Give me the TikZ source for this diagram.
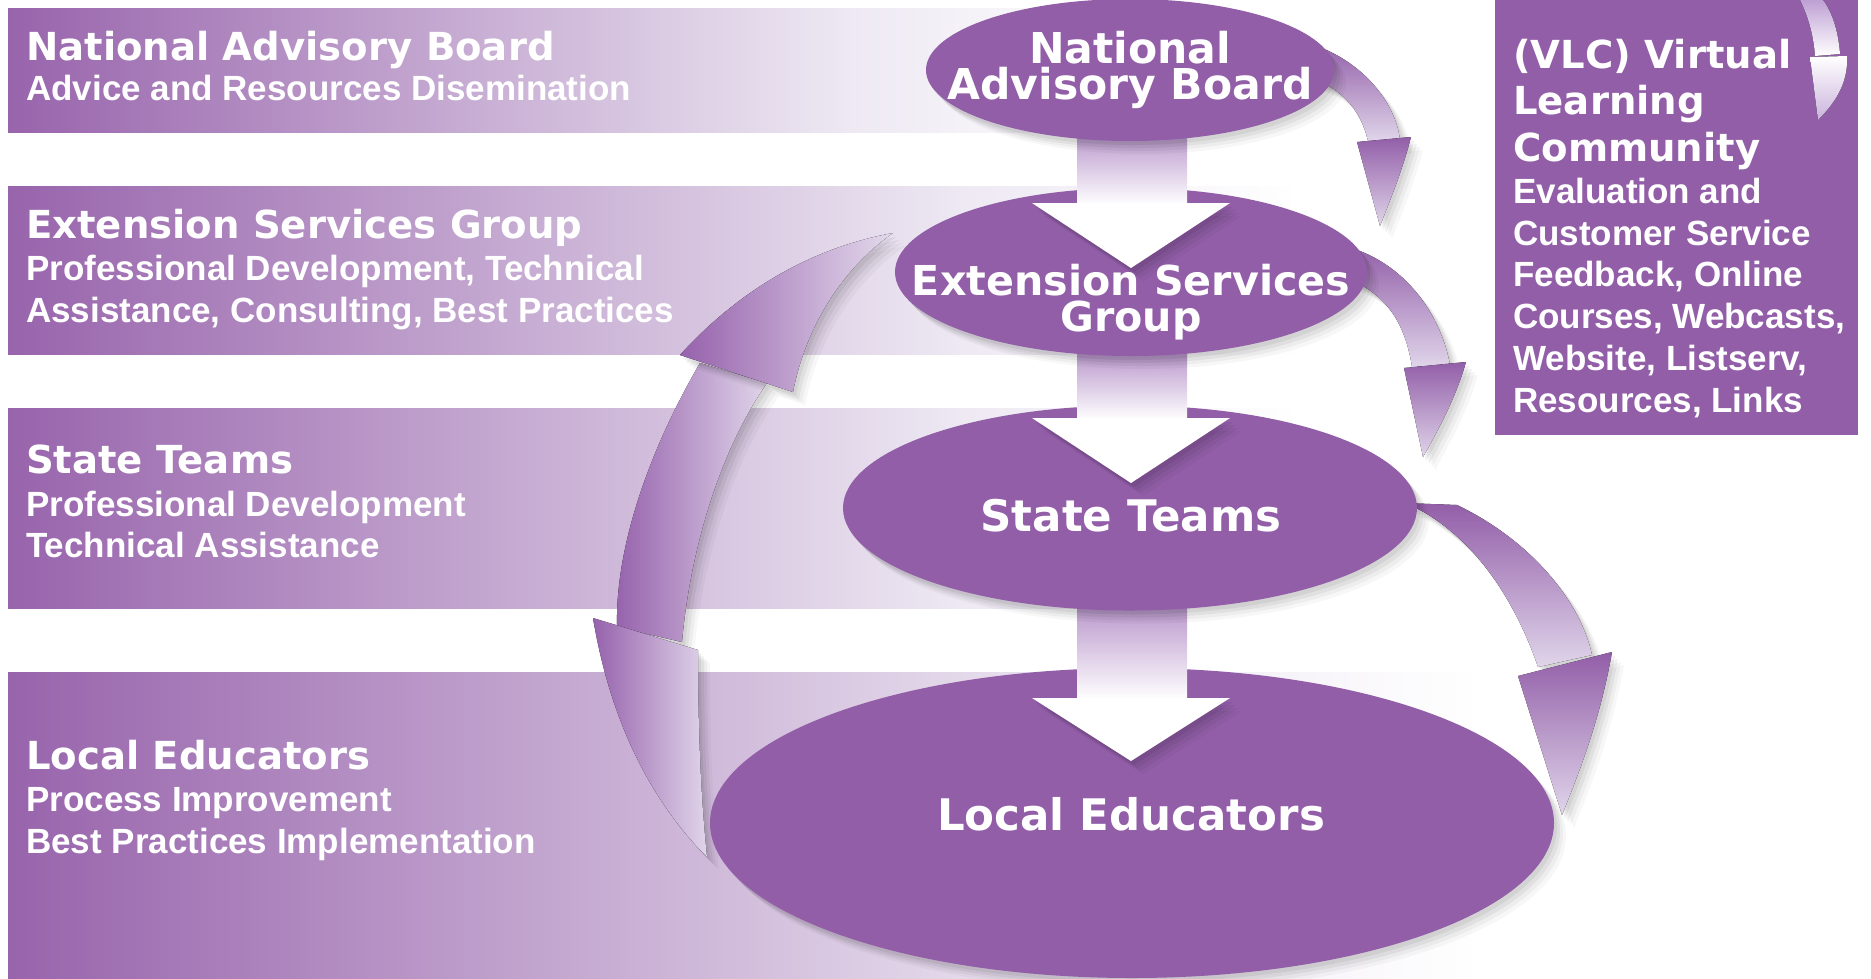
\documentclass[tikz,border=0pt]{standalone}
\usepackage{fontspec}
\setmainfont{Liberation Sans}
\newfontfamily\headfont{DejaVu Sans}
\usetikzlibrary{shapes.geometric}
\definecolor{vpurple}{RGB}{146,94,168}
\definecolor{bandL}{RGB}{152,100,172}
\definecolor{bandR}{RGB}{238,233,243}
\definecolor{shaftTop}{RGB}{178,140,198}
\definecolor{arcLight}{RGB}{224,213,234}
\definecolor{arcDark}{RGB}{150,98,172}
\definecolor{vlcA}{RGB}{190,160,212}
\pgfdeclarehorizontalshading{bandfade}{100bp}{color(0bp)=(bandL); color(25bp)=(bandL); color(62bp)=(bandR); color(75bp)=(white); color(100bp)=(white)}
\begin{document}
\begin{tikzpicture}[x=1pt,y=-1pt,
  band/.style={shading=bandfade, draw=none},
  shd/.style={
    preaction={fill=black, fill opacity=0.06, transform canvas={xshift=3pt,yshift=-4pt}},
    preaction={fill=black, fill opacity=0.05, transform canvas={xshift=6pt,yshift=-7pt}},
    preaction={fill=black, fill opacity=0.04, transform canvas={xshift=9pt,yshift=-10pt}},
    preaction={fill=black, fill opacity=0.03, transform canvas={xshift=12pt,yshift=-13pt}}},
  ellnode/.style={ellipse, fill=vpurple, inner sep=0pt, draw=none, shd},
  headtxt/.style={font=\headfont\bfseries\fontsize{38.6}{40}\selectfont, text=white, inner sep=0pt, anchor=base west},
  subtxt/.style={font=\bfseries\fontsize{35}{40}\selectfont, text=white, inner sep=0pt, anchor=base west},
  elltxt/.style={text=white, inner sep=0pt, align=center},
  vshaft/.style={top color=shaftTop, bottom color=white, draw=none},
  vhead/.style={fill=white, draw=none, shd},
  rshaft/.style={top color=vpurple, bottom color=arcLight, draw=none, shd},
  rhead/.style={top color=vpurple, bottom color=arcLight, draw=none, shd}
]
\fill[white] (0,0) rectangle (1871,978);
\useasboundingbox (0,0) rectangle (1871,978);

% bands
\fill[band] (8,8) rectangle (1150,132);
\fill[band] (8,186) rectangle (1300,354);
\fill[band] (8,408) rectangle (1300,608);
\fill[band] (8,672) rectangle (1480,978);

% band texts
\node[headtxt] (t1a) at (26,60) {National Advisory Board};
\node[subtxt]  (t1b) at (26,100) {Advice and Resources Disemination};
\node[headtxt] (t2a) at (26,238) {Extension Services Group};
\node[subtxt]  (t2b) at (26,280) {Professional Development, Technical};
\node[subtxt]  (t2c) at (26,322) {Assistance, Consulting, Best Practices};
\node[headtxt] (t3a) at (26,473) {State Teams};
\node[subtxt]  (t3b) at (26,516) {Professional Development};
\node[subtxt]  (t3c) at (26,557) {Technical Assistance};
\node[headtxt] (t4a) at (26,769) {Local Educators};
\node[subtxt]  (t4b) at (26,811) {Process Improvement};
\node[subtxt]  (t4c) at (26,853) {Best Practices Implementation};

% VLC box
\fill[vpurple] (1495,0) rectangle (1858,435);
\node[headtxt] (v1) at (1513,68) {(VLC) Virtual};
\node[headtxt] (v2) at (1513,114) {Learning};
\node[headtxt] (v3) at (1513,161) {Community};
\node[subtxt] (v4) at (1513,203) {Evaluation and};
\node[subtxt] (v5) at (1513,245) {Customer Service};
\node[subtxt] (v6) at (1513,286) {Feedback, Online};
\node[subtxt] (v7) at (1513,328) {Courses, Webcasts,};
\node[subtxt] (v8) at (1513,370) {Website, Listserv,};
\node[subtxt] (v9) at (1513,412) {Resources, Links};
% small arrow in VLC box
\fill[top color=vlcA, bottom color=white] (1800,0) .. controls (1810,20) and (1814,40) .. (1815,56)
  -- (1840,54) .. controls (1838,30) and (1832,12) .. (1823,0) -- cycle;
\fill[top color=white, bottom color=vlcA!80] (1810,57) -- (1847,56) .. controls (1848,78) and (1840,98) .. (1818,120) -- cycle;

% left double arc
\fill[left color=arcDark, right color=arcLight, shd]
  (700,363) .. controls (655,440) and (615,540) .. (617,627)
  -- (682,642) .. controls (690,550) and (720,450) .. (767,383) -- cycle;
\fill[left color=arcDark, right color=arcLight!90, shd]
  (680,355) .. controls (730,300) and (800,250) .. (893,233)
  .. controls (840,270) and (805,330) .. (793,392) -- cycle;
\fill[left color=arcDark, right color=arcLight, shd]
  (593,618) .. controls (610,720) and (650,800) .. (707,857)
  .. controls (700,790) and (698,720) .. (698,650) -- cycle;

% right curved arrows
\fill[rshaft] (1305,42) .. controls (1360,58) and (1395,100) .. (1400,140)
  -- (1368,141) .. controls (1360,108) and (1340,85) .. (1300,75) -- cycle;
\fill[rhead] (1357,142) -- (1411,137) .. controls (1402,172) and (1390,200) .. (1380,226) -- cycle;
\fill[rshaft] (1340,245) .. controls (1400,258) and (1440,310) .. (1450,365)
  -- (1412,367) .. controls (1405,322) and (1385,292) .. (1345,278) -- cycle;
\fill[rhead] (1404,368) -- (1466,362) .. controls (1455,400) and (1438,430) .. (1423,457) -- cycle;
\fill[rshaft] (1405,503) -- (1457,505) .. controls (1530,540) and (1580,600) .. (1592,655)
  -- (1538,667) .. controls (1515,600) and (1475,540) .. (1420,510) -- cycle;
\fill[rhead] (1518,676) -- (1612,652) .. controls (1600,720) and (1580,770) .. (1562,815) -- cycle;

% ellipses and down arrows
\node[ellnode, minimum width=844pt, minimum height=310pt] (le) at (1132,823) {};
\fill[vshaft] (1077,595) rectangle (1187,700);
\fill[vhead] (1032,698) -- (1230,698) -- (1131,761) -- cycle;
\node[ellnode, minimum width=574pt, minimum height=205pt] (st) at (1130,508) {};
\fill[vshaft] (1077,345) rectangle (1187,420);
\fill[vhead] (1032,418) -- (1230,418) -- (1131,483) -- cycle;
\node[ellnode, minimum width=472pt, minimum height=168pt] (esg) at (1131,272) {};
\fill[vshaft] (1077,125) rectangle (1187,205);
\fill[vhead] (1032,203) -- (1230,203) -- (1131,268) -- cycle;
\node[ellnode, minimum width=408pt, minimum height=142pt] (nab) at (1130,70) {};

% ellipse texts
\node[elltxt, font=\headfont\bfseries\fontsize{42.5}{36}\selectfont] (e1) at (1130,70) {National\\Advisory Board};
\node[elltxt, font=\headfont\bfseries\fontsize{41.2}{35.5}\selectfont] (e2) at (1131,302) {Extension Services\\Group};
\node[elltxt, font=\headfont\bfseries\fontsize{43.5}{46}\selectfont, anchor=base] (e3) at (1131,531) {State Teams};
\node[elltxt, font=\headfont\bfseries\fontsize{43.5}{46}\selectfont, anchor=base] (e4) at (1131,830) {Local Educators};
\end{tikzpicture}
\end{document}
